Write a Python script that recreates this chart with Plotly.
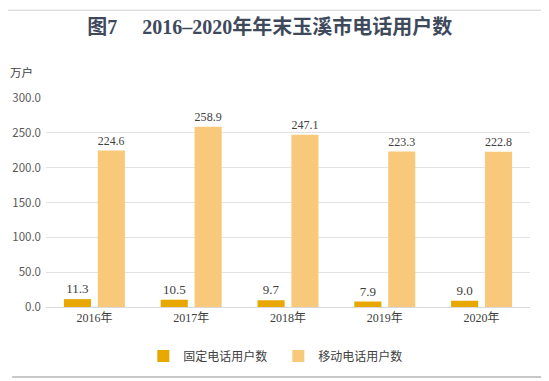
import plotly.graph_objects as go

categories = ["2016年", "2017年", "2018年", "2019年", "2020年"]
fixed_users = [11.3, 10.5, 9.7, 7.9, 9.0]
mobile_users = [224.6, 258.9, 247.1, 223.3, 222.8]
y_ticks = [0, 50, 100, 150, 200, 250, 300]
y_tick_labels = ["0.0", "50.0", "100.0", "150.0", "200.0", "250.0", "300.0"]

serif = "Liberation Serif, Noto Sans CJK SC, serif"
sans = "Noto Sans CJK SC, Noto Sans, sans-serif"

fig = go.Figure()
fig.add_trace(go.Bar(
    x=categories, y=fixed_users, name="固定电话用户数",
    marker=dict(color="#E8A800", line=dict(width=0)),
    text=[f"{v:.1f}" for v in fixed_users], textposition="outside",
    textfont=dict(family=serif, size=13, color="#404040"),
    cliponaxis=False,
))
fig.add_trace(go.Bar(
    x=categories, y=mobile_users, name="移动电话用户数",
    marker=dict(color="#F8C97A", line=dict(width=0)),
    text=[f"{v:.1f}" for v in mobile_users], textposition="outside",
    textfont=dict(family=serif, size=13, color="#404040"),
    cliponaxis=False,
))

fig.update_layout(
    width=549, height=381,
    margin=dict(l=38, r=27, t=90, b=82, autoexpand=False),
    paper_bgcolor="white", plot_bgcolor="white",
    barmode="group", bargap=0.30, bargroupgap=0.2,
    title=dict(text="<b>图7　 2016–2020年年末玉溪市电话用户数</b>",
               x=0.477, xanchor="center", y=0.95, yanchor="middle",
               font=dict(family=serif, size=20, color="#3E4A5C")),
    showlegend=True,
    legend=dict(orientation="h", x=0.48, xanchor="center", y=-0.235, yanchor="middle",
                font=dict(family=sans, size=12, color="#404040"),
                itemwidth=30, traceorder="normal",
                entrywidth=90, entrywidthmode="pixels"),
    xaxis=dict(showline=True, linecolor="#D9D9D9", linewidth=1, ticks="",
               automargin=False,
               tickfont=dict(family=serif, size=12, color="#404040")),
    yaxis=dict(range=[0, 300], tickvals=y_ticks, ticktext=y_tick_labels,
               automargin=False, ticklabelstandoff=4,
               showgrid=True, gridcolor="#E3E3E3", gridwidth=1, zeroline=False,
               tickfont=dict(family=sans, size=11.5, color="#595959"), ticks="",
               ticklen=0),
)
fig.add_annotation(text="万户", xref="paper", yref="paper", x=-0.05, y=1.124,
                   xanchor="center", yanchor="middle", showarrow=False,
                   font=dict(family=sans, size=11.5, color="#404040"))
fig.add_shape(type="line", xref="paper", yref="paper", x0=-0.078, x1=1.056, y0=1.42, y1=1.42,
              line=dict(color="#D0D0D0", width=1))
fig.add_shape(type="line", xref="paper", yref="paper", x0=-0.07, x1=1.056, y0=-0.335, y1=-0.335,
              line=dict(color="#C8C8C8", width=2))

fig.write_html("out.html")
